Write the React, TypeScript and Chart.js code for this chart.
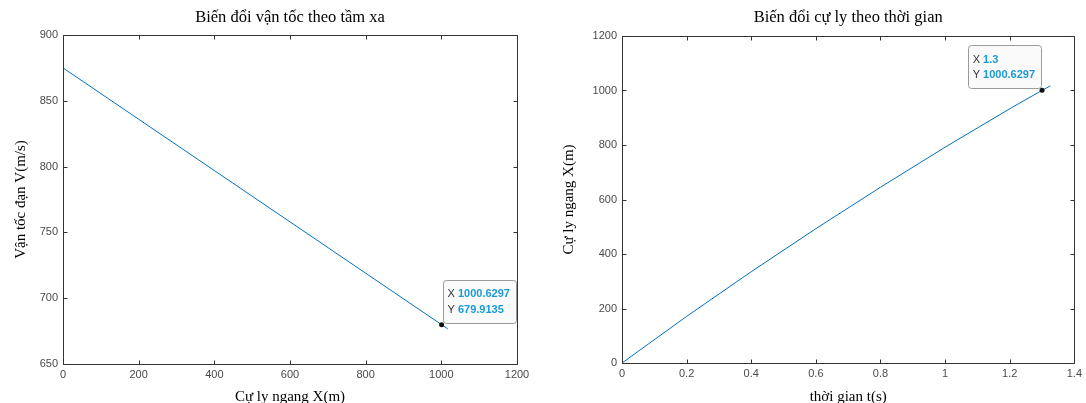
import React, { useEffect, useRef } from "react";
import { Chart, registerables } from "chart.js";

Chart.register(...registerables);

// ---- Data ----
const rangeX = [0, 200, 400, 600, 800, 1000.6297, 1017];
const velocityV = [875, 836, 797, 758, 719, 679.9135, 676.7];

const timeT = [0, 0.2, 0.4, 0.6, 0.8, 1.0, 1.2, 1.3, 1.326];
const distanceX = [0, 171, 335, 493, 645, 792, 933, 1000.6297, 1017];

const leftXTicks = [0, 200, 400, 600, 800, 1000, 1200];
const leftYTicks = [650, 700, 750, 800, 850, 900];
const rightXTicks = [0, 0.2, 0.4, 0.6, 0.8, 1, 1.2, 1.4];
const rightYTicks = [0, 200, 400, 600, 800, 1000, 1200];

const leftTip = { x: 1000.6297, y: 679.9135, xLabel: "1000.6297", yLabel: "679.9135" };
const rightTip = { x: 1.3, y: 1000.6297, xLabel: "1.3", yLabel: "1000.6297" };

const leftTitle = "Biến đổi vận tốc theo tầm xa";
const leftXLabel = "Cự ly ngang X(m)";
const leftYLabel = "Vận tốc đạn V(m/s)";
const rightTitle = "Biến đổi cự ly theo thời gian";
const rightXLabel = "thời gian t(s)";
const rightYLabel = "Cự ly ngang X(m)";

const SANS = '"Liberation Sans", Arial, sans-serif';
const SERIF = '"Liberation Serif", "Times New Roman", serif';
const AXIS_COLOR = "#333333";
const TICK_COLOR = "#4a4a4a";
const LINE_COLOR = "rgb(0,114,189)";
const TIP_BLUE = "#1c9ad6";

type Cfg = {
  xs: number[];
  ys: number[];
  xTicks: number[];
  yTicks: number[];
  xMin: number; xMax: number; yMin: number; yMax: number;
  tip: { x: number; y: number; xLabel: string; yLabel: string };
  tipSide: "right" | "left";
  title: string; xLabel: string; yLabel: string;
  padTop: number; padRight: number; yWidth: number; xHeight: number;
  yLabelX: number;
};

const framePlugin = {
  id: "matlabFrame",
  afterDatasetsDraw(chart: any, _args: any, opts: any) {
    const ctx = chart.ctx as CanvasRenderingContext2D;
    const a = chart.chartArea;
    const xs = chart.scales.x;
    const ys = chart.scales.y;
    ctx.save();
    // box
    ctx.strokeStyle = AXIS_COLOR;
    ctx.lineWidth = 1;
    const L = Math.round(a.left) + 0.5, R = Math.round(a.right) + 0.5;
    const T = Math.round(a.top) + 0.5, B = Math.round(a.bottom) + 0.5;
    ctx.beginPath();
    ctx.rect(L, T, R - L, B - T);
    ctx.stroke();
    const tl = 4;
    ctx.beginPath();
    xs.ticks.forEach((t: any) => {
      const px = Math.round(xs.getPixelForValue(t.value)) + 0.5;
      ctx.moveTo(px, B); ctx.lineTo(px, B - tl);
      ctx.moveTo(px, T); ctx.lineTo(px, T + tl);
    });
    ys.ticks.forEach((t: any) => {
      const py = Math.round(ys.getPixelForValue(t.value)) + 0.5;
      ctx.moveTo(L, py); ctx.lineTo(L + tl, py);
      ctx.moveTo(R, py); ctx.lineTo(R - tl, py);
    });
    ctx.stroke();

    // titles
    const cx = (a.left + a.right) / 2;
    ctx.fillStyle = "#000";
    ctx.textAlign = "center";
    ctx.textBaseline = "middle";
    ctx.font = `16.5px ${SERIF}`;
    ctx.fillText(opts.title, cx, 18);
    ctx.font = `15px ${SERIF}`;
    ctx.fillText(opts.xLabel, cx, 397);
    ctx.save();
    ctx.translate(opts.yLabelX, (a.top + a.bottom) / 2);
    ctx.rotate(-Math.PI / 2);
    ctx.fillText(opts.yLabel, 0, 0);
    ctx.restore();

    // datatip
    const tip = opts.tip;
    const px = xs.getPixelForValue(tip.x);
    const py = ys.getPixelForValue(tip.y);
    ctx.font = `11px ${SANS}`;
    const wX = ctx.measureText("X ").width;
    ctx.font = `bold 11px ${SANS}`;
    const wV = Math.max(ctx.measureText(tip.xLabel).width, ctx.measureText(tip.yLabel).width);
    const bw = 5 + wX + wV + 6;
    const bh = 43;
    const bx = opts.tipSide === "right" ? px + 1 : px - 1 - bw;
    const by = py - 2 - bh;
    ctx.beginPath();
    const r = 3;
    const x0 = Math.round(bx) + 0.5, y0 = Math.round(by) + 0.5;
    const w = Math.round(bw), h = bh;
    ctx.moveTo(x0 + r, y0);
    ctx.lineTo(x0 + w - r, y0);
    ctx.arcTo(x0 + w, y0, x0 + w, y0 + r, r);
    ctx.lineTo(x0 + w, y0 + h - r);
    ctx.arcTo(x0 + w, y0 + h, x0 + w - r, y0 + h, r);
    ctx.lineTo(x0 + r, y0 + h);
    ctx.arcTo(x0, y0 + h, x0, y0 + h - r, r);
    ctx.lineTo(x0, y0 + r);
    ctx.arcTo(x0, y0, x0 + r, y0, r);
    ctx.closePath();
    ctx.fillStyle = "rgba(250,250,250,0.97)";
    ctx.fill();
    ctx.strokeStyle = "#9a9a9a";
    ctx.stroke();
    ctx.textAlign = "left";
    ctx.textBaseline = "middle";
    const rows = [["X ", tip.xLabel], ["Y ", tip.yLabel]];
    rows.forEach((row, i) => {
      const ty = by + 14.5 + i * 15.5;
      ctx.font = `11px ${SANS}`;
      ctx.fillStyle = "#333";
      ctx.fillText(row[0], bx + 5, ty);
      ctx.font = `bold 11px ${SANS}`;
      ctx.fillStyle = TIP_BLUE;
      ctx.fillText(row[1], bx + 5 + wX, ty);
    });
    // dot
    ctx.beginPath();
    ctx.arc(px, py, 2.5, 0, Math.PI * 2);
    ctx.fillStyle = "#111";
    ctx.fill();
    ctx.restore();
  },
};

function Plot({ cfg }: { cfg: Cfg }) {
  const ref = useRef<HTMLCanvasElement | null>(null);
  useEffect(() => {
    if (!ref.current) return;
    const tickFont = { family: SANS, size: 11 };
    const chart = new Chart(ref.current, {
      type: "line",
      data: {
        datasets: [
          {
            data: cfg.xs.map((x, i) => ({ x, y: cfg.ys[i] })),
            borderColor: LINE_COLOR,
            borderWidth: 1,
            pointRadius: 0,
            tension: 0,
            fill: false,
          },
        ],
      },
      options: {
        animation: false,
        responsive: false,
        devicePixelRatio: 1,
        layout: { padding: { left: 0, top: cfg.padTop, right: cfg.padRight, bottom: 0 } },
        plugins: {
          legend: { display: false },
          tooltip: { enabled: false },
          title: { display: false },
          matlabFrame: {
            tip: cfg.tip, tipSide: cfg.tipSide, title: cfg.title,
            xLabel: cfg.xLabel, yLabel: cfg.yLabel, yLabelX: cfg.yLabelX,
          },
        } as any,
        scales: {
          x: {
            type: "linear",
            min: cfg.xMin,
            max: cfg.xMax,
            grid: { display: false, drawTicks: false },
            border: { display: false },
            ticks: {
              font: tickFont, color: TICK_COLOR, padding: 4, maxRotation: 0, autoSkip: false,
              callback: (v: any) => String(Number(Number(v).toFixed(2))),
            },
            afterBuildTicks: (s: any) => { s.ticks = cfg.xTicks.map((v) => ({ value: v })); },
            afterFit: (s: any) => { s.height = cfg.xHeight; },
          },
          y: {
            type: "linear",
            min: cfg.yMin,
            max: cfg.yMax,
            grid: { display: false, drawTicks: false },
            border: { display: false },
            ticks: {
              font: tickFont, color: TICK_COLOR, padding: 5, autoSkip: false,
              callback: (v: any) => String(Number(Number(v).toFixed(2))),
            },
            afterBuildTicks: (s: any) => { s.ticks = cfg.yTicks.map((v) => ({ value: v })); },
            afterFit: (s: any) => { s.width = cfg.yWidth; },
          },
        },
      } as any,
      plugins: [framePlugin as any],
    });
    return () => chart.destroy();
  }, [cfg]);
  return <canvas ref={ref} width={543} height={403} style={{ width: 543, height: 403, display: "block" }} />;
}

const leftCfg: Cfg = {
  xs: rangeX, ys: velocityV, xTicks: leftXTicks, yTicks: leftYTicks,
  xMin: 0, xMax: 1200, yMin: 650, yMax: 900,
  tip: leftTip, tipSide: "right",
  title: leftTitle, xLabel: leftXLabel, yLabel: leftYLabel,
  padTop: 35, padRight: 26, yWidth: 63, xHeight: 39, yLabelX: 21,
};

const rightCfg: Cfg = {
  xs: timeT, ys: distanceX, xTicks: rightXTicks, yTicks: rightYTicks,
  xMin: 0, xMax: 1.4, yMin: 0, yMax: 1200,
  tip: rightTip, tipSide: "left",
  title: rightTitle, xLabel: rightXLabel, yLabel: rightYLabel,
  padTop: 36, padRight: 7, yWidth: 79, xHeight: 40, yLabelX: 26,
};

export default function App() {
  return (
    <div style={{ position: "fixed", left: 0, top: 0, width: 1086, height: 403, background: "#fff" }}>
      <div style={{ position: "absolute", left: 0, top: 0 }}>
        <Plot cfg={leftCfg} />
      </div>
      <div style={{ position: "absolute", left: 543, top: 0 }}>
        <Plot cfg={rightCfg} />
      </div>
    </div>
  );
}
